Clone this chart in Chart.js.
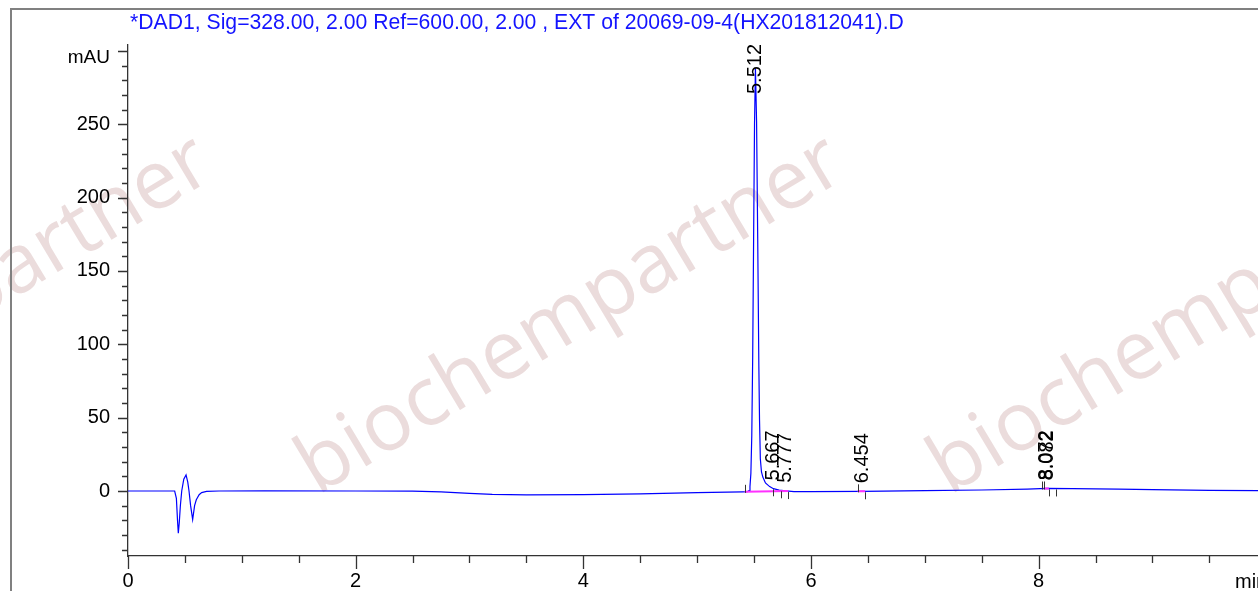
<!DOCTYPE html>
<html><head><meta charset="utf-8">
<script src="https://cdn.jsdelivr.net/npm/chart.js@4.4.0/dist/chart.umd.min.js"></script>
<style>html,body{margin:0;padding:0;background:#fff;overflow:hidden}#wrap{position:relative;width:1258px;height:591px}</style>
</head><body><div id="wrap"><canvas id="c" width="1258" height="591"></canvas></div>
<script>
const titleText = '*DAD1, Sig=328.00, 2.00 Ref=600.00, 2.00 , EXT of 20069-09-4(HX201812041).D';
const xAxisUnit = 'min';
const yAxisUnit = 'mAU';
const watermarkText = 'biochempartner';

// retention time (min) and detector signal (mAU)
const timeMin = [
  0, 0.41, 0.425, 0.435, 0.442, 0.45, 0.46, 0.472, 0.49, 0.51, 0.525, 0.536, 0.55, 0.568, 0.585, 0.60, 0.625, 0.647, 0.69, 0.8,
  1.2, 2.0, 2.5, 2.75, 3.0, 3.2, 3.5, 4.0, 4.5, 5.0, 5.4, 5.44,
  5.456, 5.464, 5.472, 5.480, 5.488, 5.496, 5.504, 5.512, 5.522, 5.532, 5.542, 5.548, 5.555, 5.565, 5.577, 5.60, 5.637, 5.67, 5.72, 5.78, 5.85,
  6.0, 6.454, 7.0, 7.5, 7.9, 8.072, 8.3, 8.7, 9.0, 9.5, 9.927
];
const signalMAU = [
  0, 0, -5, -20, -28.8, -22, -10, 0, 8, 11, 6, 0, -10, -19.4, -10, -6, -2.5, -1.1, -0.3, 0,
  0.1, 0, -0.1, -0.6, -1.6, -2.3, -2.6, -2.5, -1.9, -1.1, -0.6, -0.5,
  0.2, 3, 12, 38, 92, 172, 250, 288, 252, 172, 85, 48, 22, 13, 9.5, 5.5, 3, 1.6, 0.6, 0.1, -0.4,
  -0.4, -0.2, 0.2, 0.7, 1.3, 1.8, 1.6, 1.3, 0.9, 0.4, 0.2
];

const peakRT = [5.512, 5.667, 5.777, 6.454, 8.072, 8.082];
const peakLabels = ['5.512', '5.667', '5.777', '6.454', '8.072', '8.082'];

// integration events
const eventTimes = [5.417, 5.664, 5.734, 5.80, 6.41, 6.476, 8.03, 8.045, 8.09, 8.15];
const eventKinds = ['start', 'end', 'end', 'end', 'start', 'end', 'start', 'start', 'end', 'end'];
const baselineFrom = [5.417, 6.41, 8.045];
const baselineTo = [5.80, 6.476, 8.09];

const xTickValues = [0, 2, 4, 6, 8];
const xTickLabels = ['0', '2', '4', '6', '8'];
const yTickValues = [0, 50, 100, 150, 200, 250, 300];
const yTickLabels = ['0', '50', '100', '150', '200', '250', ''];
const xMinorStep = 0.5;
const yMinorStep = 10;
const xRange = [0, 9.927];
const yRange = [-44.3, 304];

const FONT = '"Liberation Sans", Arial, sans-serif';

function signalAt(t) {
  for (let i = 1; i < timeMin.length; i++) {
    if (t <= timeMin[i]) {
      const t0 = timeMin[i - 1], t1 = timeMin[i];
      const f = (t - t0) / (t1 - t0);
      return signalMAU[i - 1] + f * (signalMAU[i] - signalMAU[i - 1]);
    }
  }
  return signalMAU[signalMAU.length - 1];
}

const signalPts = timeMin.map((t, i) => ({ x: t, y: signalMAU[i] }));
const baselinePts = [];
baselineFrom.forEach((t0, i) => {
  baselinePts.push({ x: t0, y: signalAt(t0) });
  baselinePts.push({ x: baselineTo[i], y: signalAt(baselineTo[i]) });
  baselinePts.push({ x: baselineTo[i] + 0.001, y: null });
});

const decor = {
  id: 'chromDecor',
  beforeDraw(chart) {
    const ctx = chart.ctx;
    ctx.save();
    ctx.fillStyle = '#fff';
    ctx.fillRect(0, 0, chart.width, chart.height);
    ctx.font = '82px "Open Sans", sans-serif';
    ctx.fillStyle = '#ebdcdc';
    ctx.textAlign = 'center';
    ctx.textBaseline = 'middle';
    for (const dx of [-632, 0, 632]) {
      ctx.save();
      ctx.translate(571 + dx, 316);
      ctx.rotate(-31 * Math.PI / 180);
      ctx.fillText(watermarkText, 0, 0);
      ctx.restore();
    }
    ctx.strokeStyle = '#808080';
    ctx.lineWidth = 2;
    ctx.strokeRect(11, 9, chart.width + 20, chart.height + 20);
    ctx.restore();
  },
  afterDraw(chart) {
    const { ctx, chartArea: ca } = chart;
    const x = chart.scales.x, y = chart.scales.y;
    ctx.save();
    // axis ticks
    ctx.strokeStyle = '#333';
    ctx.lineWidth = 1.3;
    ctx.beginPath();
    for (let k = 0; k * xMinorStep <= xRange[1] + 1e-9; k++) {
      const v = Math.round(k * xMinorStep * 1000) / 1000;
      const px = Math.round(x.getPixelForValue(v)) + 0.5;
      const major = xTickValues.includes(v);
      ctx.moveTo(px, ca.bottom);
      ctx.lineTo(px, ca.bottom + (major ? 13 : 7));
    }
    for (let k = Math.ceil(yRange[0] / yMinorStep); k * yMinorStep <= yRange[1]; k++) {
      const v = k * yMinorStep;
      const py = Math.round(y.getPixelForValue(v)) + 0.5;
      const major = yTickValues.includes(v);
      ctx.moveTo(ca.left, py);
      ctx.lineTo(ca.left - (major ? 10 : 6), py);
    }
    ctx.stroke();

    // integration event markers
    ctx.strokeStyle = '#333';
    ctx.lineWidth = 1;
    ctx.beginPath();
    eventTimes.forEach((t, i) => {
      const px = Math.round(x.getPixelForValue(t)) + 0.5;
      const py = y.getPixelForValue(signalAt(t));
      if (eventKinds[i] === 'start') { ctx.moveTo(px, py + 1); ctx.lineTo(px, py - 7); }
      else { ctx.moveTo(px, py + 1); ctx.lineTo(px, py + 8); }
    });
    ctx.stroke();

    // peak labels
    ctx.font = '20px ' + FONT;
    ctx.fillStyle = '#000';
    ctx.textAlign = 'left';
    ctx.textBaseline = 'middle';
    peakRT.forEach((rt, i) => {
      let apex = -Infinity;
      timeMin.forEach((t, j) => { if (Math.abs(t - rt) < 0.012) apex = Math.max(apex, signalMAU[j]); });
      apex = Math.max(apex, signalAt(rt));
      const w = ctx.measureText(peakLabels[i]).width;
      let bottom = y.getPixelForValue(apex) - 8;
      if (bottom - w < ca.top - 1) bottom = ca.top - 1 + w;
      ctx.save();
      ctx.translate(x.getPixelForValue(rt), bottom);
      ctx.rotate(-Math.PI / 2);
      ctx.fillText(peakLabels[i], 0, 0);
      ctx.restore();
    });

    // title
    ctx.font = '21.2px ' + FONT;
    ctx.fillStyle = '#1414ff';
    ctx.textBaseline = 'alphabetic';
    ctx.textAlign = 'left';
    ctx.fillText(titleText, 130, 29);

    // units
    ctx.font = '19px ' + FONT;
    ctx.fillStyle = '#000';
    ctx.textBaseline = 'middle';
    ctx.textAlign = 'right';
    ctx.fillText(yAxisUnit, ca.left - 18, y.getPixelForValue(300) + 7);
    ctx.font = '20px ' + FONT;
    ctx.textAlign = 'left';
    ctx.fillText(xAxisUnit, 1235, 582);
    ctx.restore();
  }
};

new Chart(document.getElementById('c'), {
  type: 'line',
  data: {
    datasets: [
      { data: baselinePts, borderColor: '#ff30ff', borderWidth: 2, pointRadius: 0, spanGaps: false, tension: 0 },
      { data: signalPts, borderColor: '#0000ff', borderWidth: 1.2, pointRadius: 0, tension: 0 }
    ]
  },
  options: {
    responsive: false,
    animation: false,
    layout: { padding: { top: 45, left: 0, right: 0, bottom: 0 } },
    plugins: { legend: { display: false }, tooltip: { enabled: false }, title: { display: false } },
    scales: {
      x: {
        type: 'linear', min: xRange[0], max: xRange[1],
        grid: { display: false, drawTicks: false },
        border: { display: true, color: '#333', width: 1.3 },
        afterBuildTicks: s => { s.ticks = xTickValues.map(v => ({ value: v })); },
        afterFit: s => { s.height = 35; },
        ticks: {
          padding: 13, color: '#000', maxRotation: 0, autoSkip: false,
          font: { family: FONT, size: 20 },
          callback: v => { const i = xTickValues.indexOf(v); return i >= 0 ? xTickLabels[i] : ''; }
        }
      },
      y: {
        type: 'linear', min: yRange[0], max: yRange[1],
        grid: { display: false, drawTicks: false },
        border: { display: true, color: '#333', width: 1.3 },
        afterBuildTicks: s => { s.ticks = yTickValues.map(v => ({ value: v })); },
        afterFit: s => { s.width = 128; },
        ticks: {
          padding: 18, color: '#000', autoSkip: false,
          font: { family: FONT, size: 20 },
          callback: v => { const i = yTickValues.indexOf(v); return i >= 0 ? yTickLabels[i] : ''; }
        }
      }
    }
  },
  plugins: [decor]
});
</script>
</body></html>
